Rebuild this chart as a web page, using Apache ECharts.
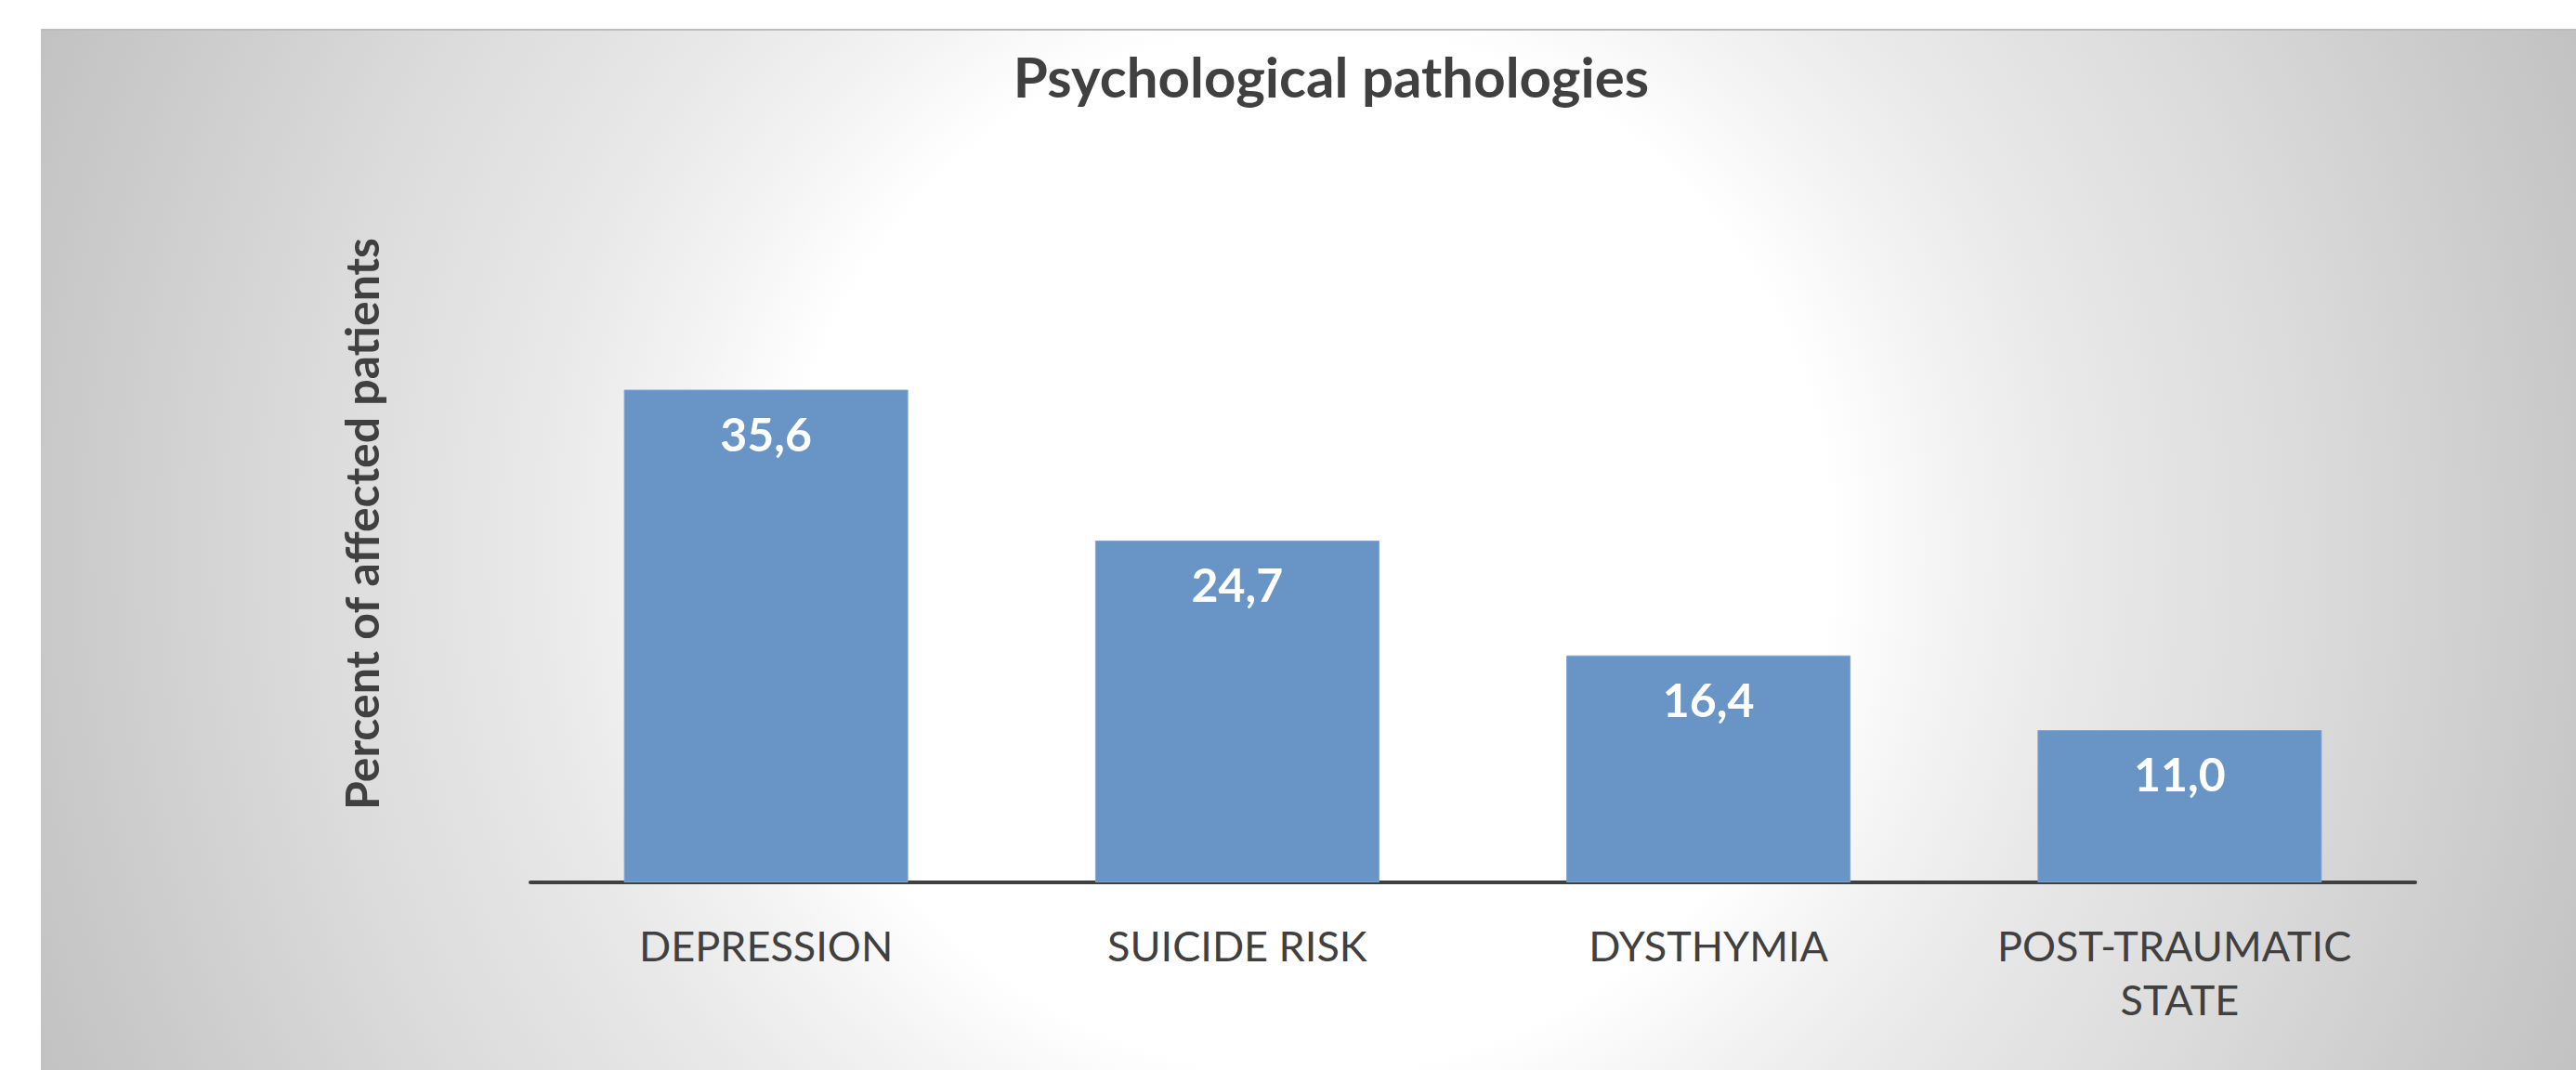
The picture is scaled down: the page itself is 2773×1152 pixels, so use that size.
<!DOCTYPE html>
<html>
<head>
<meta charset="utf-8">
<script src="https://cdn.jsdelivr.net/npm/echarts@6/dist/echarts.min.js"></script>
<style>
  html, body { margin: 0; padding: 0; background: #ffffff; width: 2773px; height: 1152px; overflow: hidden; }
  #bg { position: absolute; left: 44px; top: 31px; width: 2729px; height: 1121px;
        border-top: 2px solid #bdbdbd; box-sizing: border-box;
        background: radial-gradient(circle farthest-corner at 50% 50%, #ffffff 0%, #ffffff 38%, #f3f3f3 47%, #e9e9e9 56%, #e3e3e3 63%, #dcdcdc 72%, #c9c9c9 92%, #c2c2c2 100%); }
  #chart { position: absolute; left: 0; top: 0; width: 2773px; height: 1152px; }
</style>
</head>
<body>
<div id="bg"></div>
<div id="chart"></div>
<script>
const titleText = 'Psychological pathologies';
const yAxisTitle = 'Percent of affected patients';
const categories = ['DEPRESSION', 'SUICIDE RISK', 'DYSTHYMIA', 'POST-TRAUMATIC STATE'];
const values = [35.6, 24.7, 16.4, 11.0];

const FONT = 'Lato, "Open Sans", sans-serif';
const chart = echarts.init(document.getElementById('chart'), null, { renderer: 'svg' });
chart.setOption({
  backgroundColor: 'transparent',
  animation: false,
  title: {
    text: titleText,
    left: 1433,
    top: 52,
    textAlign: 'center',
    padding: 0,
    textStyle: { fontFamily: FONT, fontWeight: 'bold', fontSize: 60, color: '#404040' }
  },
  grid: { left: 571, right: 173, top: 354, bottom: 202, containLabel: false },
  xAxis: {
    type: 'category',
    data: categories,
    axisLine: { lineStyle: { color: '#404040', width: 4 } },
    axisTick: { show: false },
    axisLabel: {
      interval: 0,
      margin: 39,
      fontFamily: FONT,
      fontSize: 45,
      lineHeight: 58,
      color: '#404040',
      width: 420,
      overflow: 'break'
    }
  },
  yAxis: {
    type: 'value',
    min: 0,
    max: 40,
    show: false
  },
  graphic: [{
    type: 'text',
    x: 389,
    y: 564,
    rotation: Math.PI / 2,
    style: {
      text: yAxisTitle,
      fontFamily: FONT,
      fontWeight: 'bold',
      fontSize: 50,
      fill: '#404040',
      align: 'center',
      verticalAlign: 'middle'
    }
  }],
  series: [{
    type: 'bar',
    data: values,
    barWidth: 306,
    itemStyle: { color: '#6894c6', borderColor: '#7fa5d2', borderWidth: 1 },
    label: {
      show: true,
      position: 'insideTop',
      distance: 22,
      fontFamily: FONT,
      fontWeight: 'bold',
      fontSize: 50,
      color: '#ffffff',
      formatter: p => p.value.toFixed(1).replace('.', ',')
    }
  }]
});
</script>
</body>
</html>
